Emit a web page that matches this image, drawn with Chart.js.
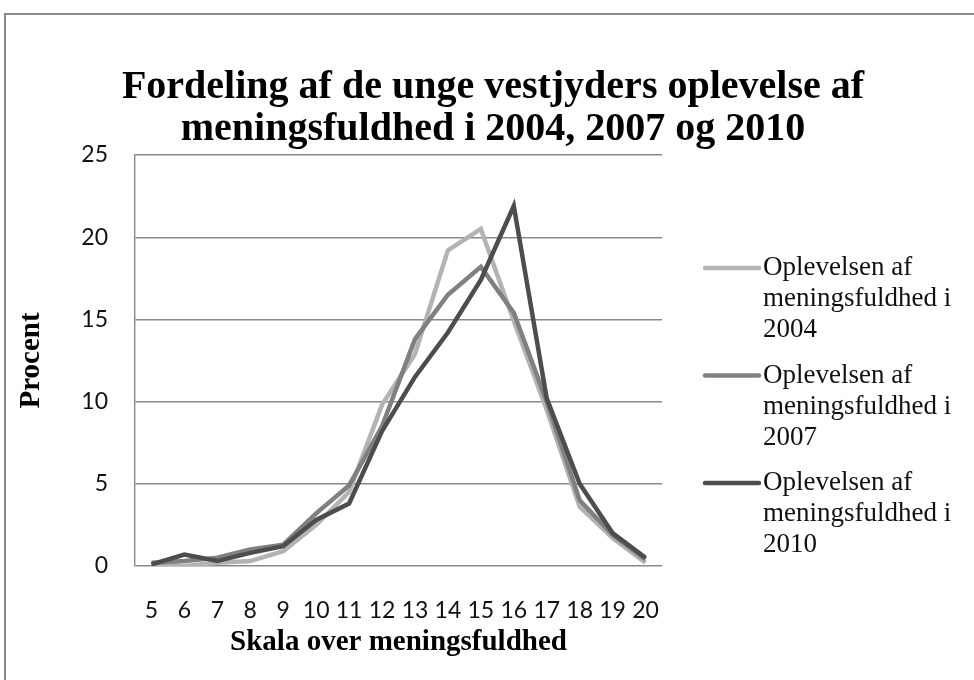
<!DOCTYPE html>
<html>
<head>
<meta charset="utf-8">
<script src="https://cdn.jsdelivr.net/npm/chart.js@4/dist/chart.umd.min.js"></script>
<style>
  html, body { margin: 0; padding: 0; background: #fff; }
  #wrap { width: 974px; height: 680px; }
</style>
</head>
<body>
<div id="wrap"><canvas id="chart"></canvas></div>
<script>
const categories = ["5", "6", "7", "8", "9", "10", "11", "12", "13", "14", "15", "16", "17", "18", "19", "20"];
const values2004 = [0.1, 0.0, 0.2, 0.3, 0.9, 2.5, 4.5, 9.8, 12.9, 19.2, 20.5, 14.9, 9.5, 3.6, 1.7, 0.2];
const values2007 = [0.2, 0.3, 0.5, 1.0, 1.3, 3.2, 4.9, 8.5, 13.8, 16.5, 18.2, 15.4, 10.0, 4.0, 1.9, 0.4];
const values2010 = [0.1, 0.7, 0.3, 0.8, 1.2, 2.8, 3.8, 8.2, 11.5, 14.2, 17.4, 21.9, 10.2, 5.0, 2.0, 0.5];
const seriesNames = [
  "Oplevelsen af meningsfuldhed i 2004",
  "Oplevelsen af meningsfuldhed i 2007",
  "Oplevelsen af meningsfuldhed i 2010",
];
const seriesColors = ["#b3b3b3", "#808080", "#4d4d4d"];
const yTicks = [0, 5, 10, 15, 20, 25];

// frame round the whole chart, like the Excel chart area
const framePlugin = {
  id: "frame",
  beforeDraw(chart) {
    const ctx = chart.ctx;
    ctx.save();
    ctx.strokeStyle = "#8a8a8a";
    ctx.lineWidth = 2;
    ctx.strokeRect(5, 14, chart.width + 20, chart.height + 20);
    ctx.restore();
  },
};

// legend with wrapped text, drawn to the right of the plot
const wrapLegend = {
  id: "wrapLegend",
  afterDraw(chart) {
    const ctx = chart.ctx;
    const area = chart.chartArea;
    const x0 = area.right + 41;
    const textX = x0 + 60;
    ctx.save();
    ctx.font = "27px 'Liberation Serif'";
    ctx.textBaseline = "middle";
    chart.data.datasets.forEach((ds, i) => {
      const y0 = 268 + i * 107.5;
      ctx.strokeStyle = ds.borderColor;
      ctx.lineWidth = 4.5;
      ctx.lineCap = "round";
      ctx.beginPath();
      ctx.moveTo(x0 + 2, y0);
      ctx.lineTo(textX - 4, y0);
      ctx.stroke();
      // wrap words onto lines no wider than maxW
      const maxW = 205;
      const words = ds.label.split(" ");
      const lines = [];
      let line = "";
      words.forEach((w) => {
        const test = line ? line + " " + w : w;
        if (ctx.measureText(test).width > maxW && line) {
          lines.push(line);
          line = w;
        } else {
          line = test;
        }
      });
      lines.push(line);
      ctx.fillStyle = "#111";
      lines.forEach((l, j) => ctx.fillText(l, textX, y0 + j * 31));
    });
    ctx.restore();
  },
};

new Chart(document.getElementById("chart"), {
  type: "line",
  data: {
    labels: categories,
    datasets: [
      { label: seriesNames[0], data: values2004, borderColor: seriesColors[0], order: 3 },
      { label: seriesNames[1], data: values2007, borderColor: seriesColors[1], order: 2 },
      { label: seriesNames[2], data: values2010, borderColor: seriesColors[2], order: 1 },
    ].map((d) => ({ ...d, borderWidth: 4.5, pointRadius: 0, tension: 0, fill: false })),
  },
  options: {
    responsive: true,
    maintainAspectRatio: false,
    animation: false,
    layout: { padding: { left: 12, right: 0, top: 0, bottom: 0 } },
    plugins: {
      legend: { display: false },
      tooltip: { enabled: false },
      title: {
        display: true,
        text: ["Fordeling af de unge vestjyders oplevelse af", "meningsfuldhed i 2004, 2007 og 2010"],
        color: "#000",
        font: { family: "'Liberation Serif'", size: 40, weight: "bold", lineHeight: 1.05 },
        padding: { top: 67, bottom: 4 },
      },
    },
    scales: {
      x: {
        offset: true,
        grid: { display: false },
        border: { display: false },
        ticks: { color: "#111", font: { family: "Lato", size: 23 }, padding: 23, maxRotation: 0, autoSkip: false },
        title: {
          display: true,
          text: "Skala over meningsfuldhed",
          color: "#000",
          font: { family: "'Liberation Serif'", size: 29, weight: "bold" },
          padding: { top: 0, bottom: 20 },
        },
        afterFit(scale) { scale.height = 114; },
      },
      y: {
        min: 0,
        max: 25,
        afterBuildTicks(scale) { scale.ticks = yTicks.map((v) => ({ value: v })); },
        grid: { color: "#898989", lineWidth: 1.4, drawTicks: false },
        border: { color: "#898989", width: 1.4 },
        ticks: { color: "#111", font: { family: "Lato", size: 23 }, padding: 27 },
        title: {
          display: true,
          text: "Procent",
          color: "#000",
          font: { family: "'Liberation Serif'", size: 29, weight: "bold" },
          padding: { top: 2, bottom: 0 },
        },
        afterFit(scale) { scale.width = 123; },
      },
      // empty axis on the right that only keeps room for the legend
      legendRoom: {
        type: "linear",
        position: "right",
        display: true,
        grid: { display: false },
        border: { display: false },
        ticks: { display: false },
        afterFit(scale) { scale.width = 312; },
      },
    },
  },
  plugins: [framePlugin, wrapLegend],
});
</script>
</body>
</html>
